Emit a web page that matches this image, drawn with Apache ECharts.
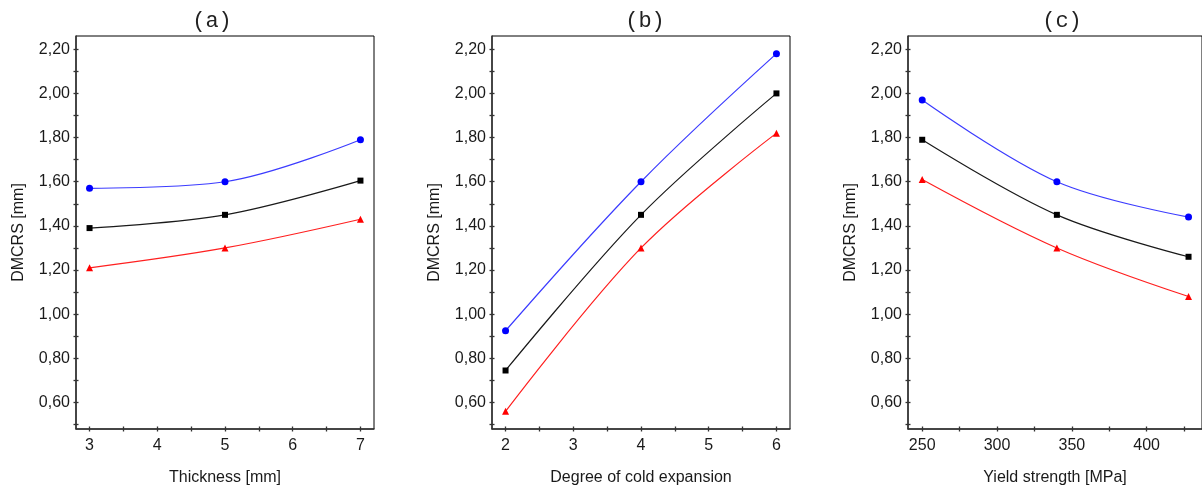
<!DOCTYPE html>
<html><head><meta charset="utf-8">
<script src="https://cdn.jsdelivr.net/npm/echarts@6/dist/echarts.min.js"></script>
<style>html,body{margin:0;padding:0;background:#fff}#c{width:1202px;height:492px}</style>
</head><body><div id="c"></div>
<script>
// ---- data ----
const panelTitles = ['(a)', '(b)', '(c)'];
const xNames = ['Thickness [mm]', 'Degree of cold expansion', 'Yield strength [MPa]'];
const yName = 'DMCRS [mm]';

const xA = [3, 5, 7];
const blueA = [1.57, 1.60, 1.79];
const blackA = [1.39, 1.45, 1.605];
const redA = [1.21, 1.30, 1.43];

const xB = [2, 4, 6];
const blueB = [0.925, 1.60, 2.18];
const blackB = [0.745, 1.45, 2.00];
const redB = [0.56, 1.30, 1.82];

const xC = [250, 340, 428];
const blueC = [1.97, 1.60, 1.44];
const blackC = [1.79, 1.45, 1.26];
const redC = [1.61, 1.30, 1.08];

const yTickValues = [0.5,0.6,0.7,0.8,0.9,1.0,1.1,1.2,1.3,1.4,1.5,1.6,1.7,1.8,1.9,2.0,2.1,2.2];
const yLabelValues = [0.6,0.8,1.0,1.2,1.4,1.6,1.8,2.0,2.2];
const xTickA = [3,3.5,4,4.5,5,5.5,6,6.5,7];
const xLabelA = [3,4,5,6,7];
const xTickB = [2,2.5,3,3.5,4,4.5,5,5.5,6];
const xLabelB = [2,3,4,5,6];
const xTickC = [250,275,300,325,350,375,400,425];
const xLabelC = [250,300,350,400];

// ---- layout ----
const panels = [
  {left: 76, xMin: 2.8, xMax: 7.2, xs: xA, s: [blueA, blackA, redA], ticks: xTickA, labels: xLabelA, titleX: 207},
  {left: 492, xMin: 1.8, xMax: 6.2, xs: xB, s: [blueB, blackB, redB], ticks: xTickB, labels: xLabelB, titleX: 640},
  {left: 908, xMin: 240.5, xMax: 437, xs: xC, s: [blueC, blackC, redC], ticks: xTickC, labels: xLabelC, titleX: 1057}
];
const TOP = 36, H = 393, W = 298;
const FONT = 'Liberation Sans, Arial, sans-serif';
const seriesStyle = [
  {line: '#3c3cff', mark: '#0000ff', symbol: 'circle', size: 7},
  {line: '#1a1a1a', mark: '#000000', symbol: 'rect', size: 6},
  {line: '#ff2020', mark: '#ff0000', symbol: 'triangle', size: 7}
];

const grid = [], xAxis = [], yAxis = [], series = [], title = [];
panels.forEach((p, i) => {
  grid.push({left: p.left, top: TOP, width: W, height: H, show: true, borderColor: '#000', borderWidth: 1, containLabel: false});
  title.push({text: panelTitles[i], left: p.titleX, top: 5, textAlign: 'center',
    textStyle: {fontFamily: 'Liberation Mono, Courier New, monospace', fontSize: 22, fontWeight: 'normal', color: '#222'}});
  const xi = xAxis.length, yi = yAxis.length;
  xAxis.push({type: 'value', gridIndex: i, min: p.xMin, max: p.xMax, position: 'bottom',
    axisLine: {show: true, lineStyle: {color: '#333', width: 1.5}},
    axisTick: {show: true, inside: false, length: 2.5, customValues: p.ticks, lineStyle: {color: '#333', width: 1.3}},
    axisLabel: {show: true, customValues: p.labels, margin: 9, fontSize: 16, fontFamily: FONT, color: '#1a1a1a'},
    splitLine: {show: false},
    name: xNames[i], nameLocation: 'middle', nameGap: 41,
    nameTextStyle: {fontSize: 16, fontFamily: FONT, color: '#1a1a1a'}});
  xAxis.push({type: 'value', gridIndex: i, min: p.xMin, max: p.xMax, position: 'bottom',
    axisLine: {show: false},
    axisTick: {show: true, inside: true, length: 2.5, customValues: p.ticks, lineStyle: {color: '#333', width: 1.3}},
    axisLabel: {show: false}, splitLine: {show: false}});
  yAxis.push({type: 'value', gridIndex: i, min: 0.48, max: 2.26, position: 'left',
    axisLine: {show: true, lineStyle: {color: '#333', width: 1.5}},
    axisTick: {show: true, inside: false, length: 2.5, customValues: yTickValues, lineStyle: {color: '#333', width: 1.3}},
    axisLabel: {show: true, customValues: yLabelValues, margin: 6, fontSize: 16, fontFamily: FONT, color: '#1a1a1a',
      formatter: v => v.toFixed(2).replace('.', ',')},
    splitLine: {show: false},
    name: yName, nameLocation: 'middle', nameGap: 49, nameRotate: 90,
    nameTextStyle: {fontSize: 16, fontFamily: FONT, color: '#1a1a1a'}});
  yAxis.push({type: 'value', gridIndex: i, min: 0.48, max: 2.26, position: 'left',
    axisLine: {show: false},
    axisTick: {show: true, inside: true, length: 2.5, customValues: yTickValues, lineStyle: {color: '#333', width: 1.3}},
    axisLabel: {show: false}, splitLine: {show: false}});
  p.s.forEach((vals, k) => {
    const st = seriesStyle[k];
    series.push({type: 'line', xAxisIndex: xi, yAxisIndex: yi, smooth: 0.35,
      data: p.xs.map((x, j) => [x, vals[j]]),
      symbol: st.symbol, symbolSize: st.size, showSymbol: true,
      lineStyle: {color: st.line, width: 1.2},
      itemStyle: {color: st.mark},
      animation: false, silent: true});
  });
});

const chart = echarts.init(document.getElementById('c'), null, {renderer: 'canvas'});
chart.setOption({animation: false, title, grid, xAxis, yAxis, series});
</script>
</body></html>
